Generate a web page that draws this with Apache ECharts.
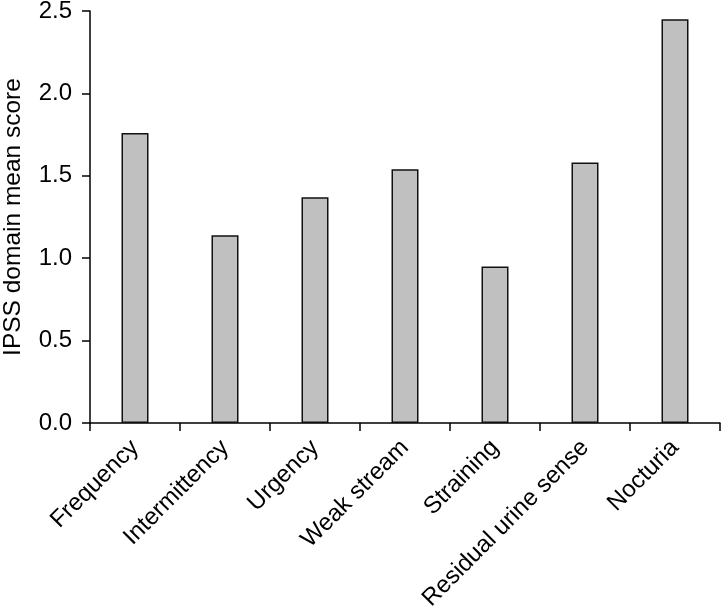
<!DOCTYPE html>
<html>
<head>
<meta charset="utf-8">
<script src="https://cdn.jsdelivr.net/npm/echarts@6/dist/echarts.min.js"></script>
<style>
html,body{margin:0;padding:0;background:#fff;}
#chart{width:722px;height:613px;}
</style>
</head>
<body>
<div id="chart"></div>
<script>
var categories = ["Frequency", "Intermittency", "Urgency", "Weak stream", "Straining", "Residual urine sense", "Nocturia"];
var meanScores = [1.76, 1.14, 1.37, 1.54, 0.95, 1.58, 2.45];
var yTicks = [0, 0.5, 1.0, 1.5, 2.0, 2.5];
var yTitle = "IPSS domain mean score";

var chart = echarts.init(document.getElementById('chart'), null, {renderer: 'canvas'});
var font = 'Liberation Sans, Arial, sans-serif';
chart.setOption({
  animation: false,
  backgroundColor: '#ffffff',
  grid: {left: 90, right: 2, top: 11, bottom: 190, containLabel: false, outerBoundsMode: 'none'},
  xAxis: {
    type: 'category',
    data: categories,
    boundaryGap: true,
    axisLine: {lineStyle: {color: '#000', width: 1.5}},
    axisTick: {show: true, length: 8, lineStyle: {color: '#000', width: 1.5}},
    axisLabel: {rotate: 45, margin: 21, interval: 0, color: '#000', fontSize: 24, fontFamily: font}
  },
  yAxis: {
    type: 'value',
    min: yTicks[0],
    max: yTicks[yTicks.length - 1],
    interval: 0.5,
    name: yTitle,
    nameLocation: 'middle',
    nameGap: 64,
    nameTextStyle: {color: '#000', fontSize: 24.5, fontFamily: font},
    axisLine: {show: true, lineStyle: {color: '#000', width: 1.5}},
    axisTick: {show: true, length: 8, lineStyle: {color: '#000', width: 1.5}},
    splitLine: {show: false},
    axisLabel: {margin: 18, color: '#000', fontSize: 24, fontFamily: font,
      formatter: function (v) { return v.toFixed(1); }}
  },
  series: [{
    type: 'bar',
    data: meanScores,
    barWidth: 27,
    itemStyle: {color: '#c0c0c0', borderColor: '#111', borderWidth: 1.5}
  }]
});
</script>
</body>
</html>
